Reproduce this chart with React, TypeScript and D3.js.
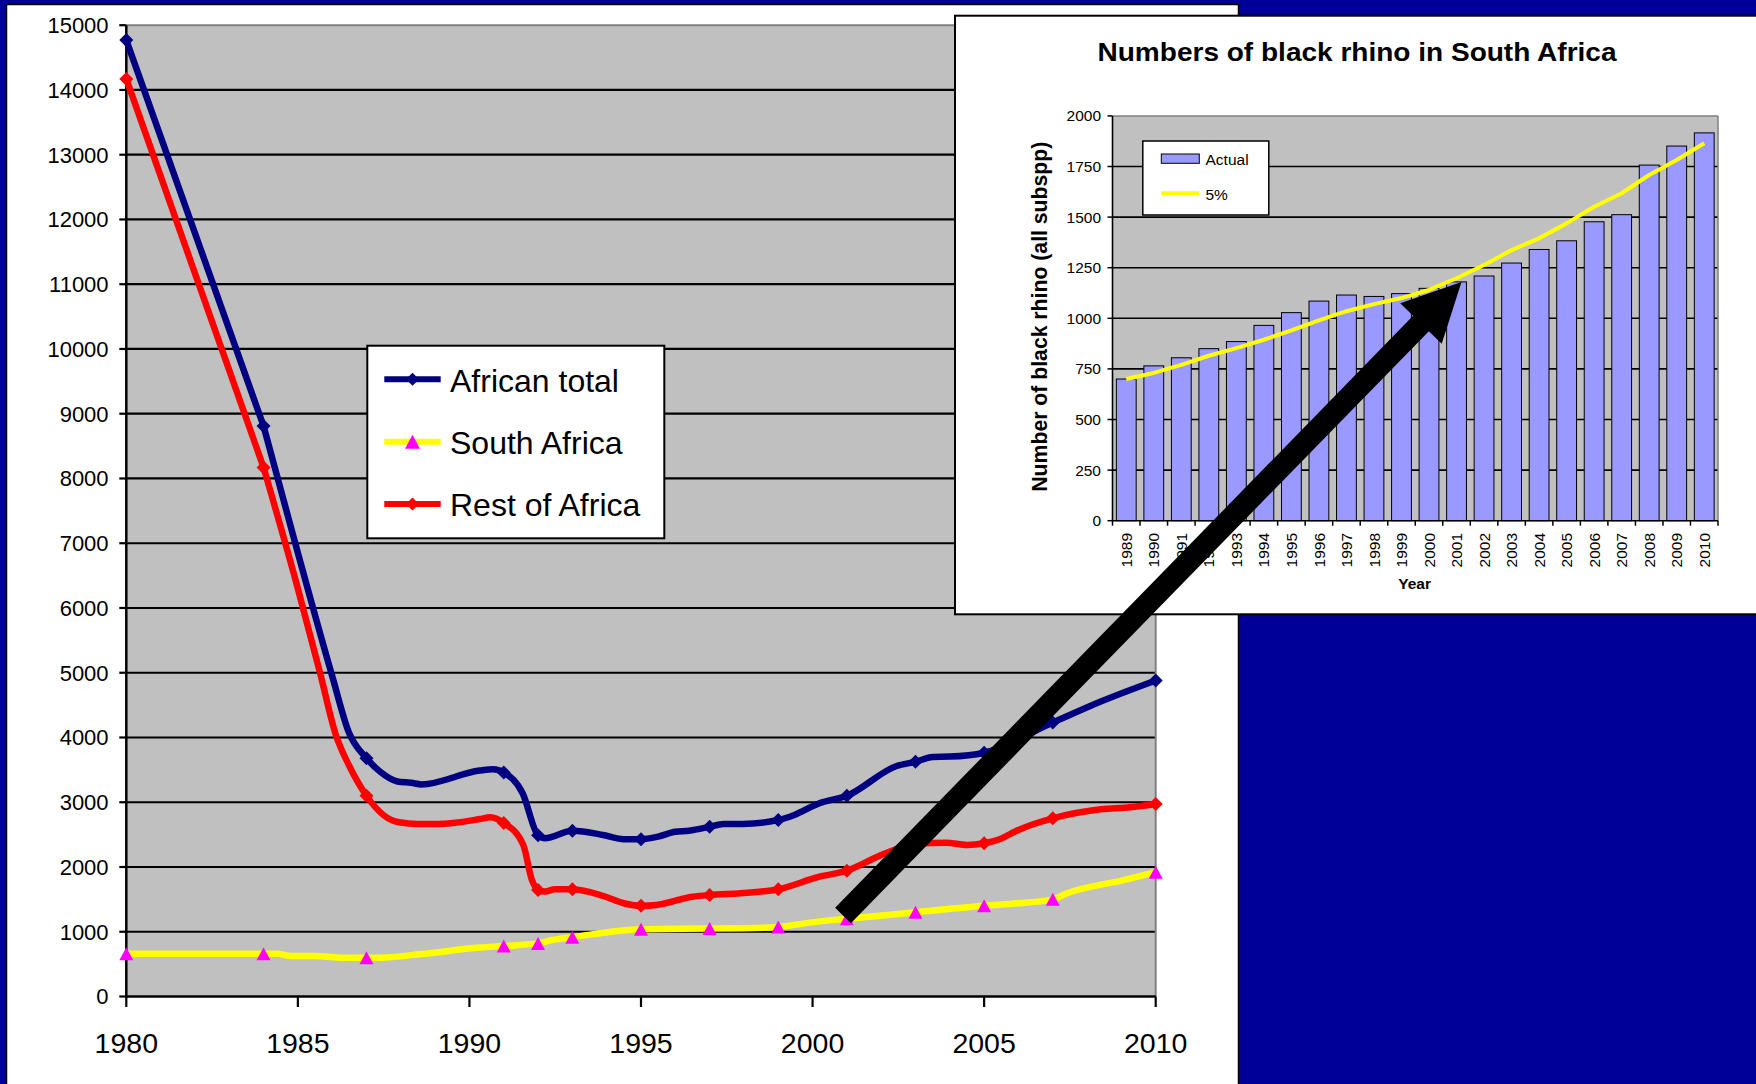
import React from "react";
import * as d3 from "d3";

// ---------- Main chart data ----------
const xTicks = [1980, 1985, 1990, 1995, 2000, 2005, 2010];
const yTicks = [0, 1000, 2000, 3000, 4000, 5000, 6000, 7000, 8000, 9000, 10000, 11000, 12000, 13000, 14000, 15000];
const markerYears = [1980, 1984, 1987, 1991, 1992, 1993, 1995, 1997, 1999, 2001, 2003, 2005, 2007, 2010];

const africanYears = [1980, 1984, 1985, 1986, 1986.5, 1987, 1987.4, 1987.9, 1988.3, 1988.6, 1990.3, 1990.7, 1991, 1991.55, 1992, 1992.2, 1993, 1993.9, 1994.5, 1995, 1995.5, 1996, 1996.4, 1997, 1997.4, 1997.95, 1999, 1999.45, 2000.2, 2001, 2002.45, 2003, 2003.5, 2004, 2005, 2007, 2008.4, 2010];
const africanValues = [14770, 8810, 6850, 4950, 4060, 3680, 3470, 3320, 3300, 3275, 3490, 3510, 3460, 3140, 2490, 2445, 2560, 2495, 2430, 2430, 2470, 2545, 2560, 2620, 2665, 2665, 2725, 2800, 2985, 3100, 3560, 3625, 3700, 3705, 3765, 4230, 4555, 4880];

const southYears = [1980, 1984, 1984.4, 1984.8, 1985.5, 1986.2, 1987, 1987.4, 1988.6, 1990.3, 1991, 1992, 1992.4, 1993, 1995, 1997, 1998, 1999, 2000.2, 2001, 2003, 2005, 2006, 2007, 2007.4, 2009.1, 2010];
const southValues = [660, 660, 660, 625, 625, 600, 600, 600, 655, 755, 780, 820, 870, 915, 1040, 1050, 1055, 1075, 1160, 1200, 1300, 1400, 1440, 1500, 1590, 1800, 1920];

const restYears = [1980, 1984, 1985, 1985.65, 1986.1, 1986.5, 1987, 1987.5, 1987.95, 1988.5, 1989.1, 1990.3, 1990.6, 1991, 1991.57, 1991.82, 1992, 1992.2, 1992.5, 1993, 1993.9, 1994.5, 1995, 1995.45, 1996.5, 1997, 1997.9, 1999, 2000.2, 2001, 2002, 2002.5, 2003, 2003.9, 2004.5, 2005, 2005.45, 2005.95, 2006.45, 2007, 2008.4, 2009.25, 2010];
const restValues = [14170, 8170, 6300, 4990, 4050, 3560, 3100, 2800, 2690, 2665, 2665, 2740, 2767, 2680, 2340, 1800, 1645, 1620, 1656, 1655, 1552, 1440, 1400, 1413, 1541, 1568, 1594, 1656, 1850, 1943, 2185, 2290, 2360, 2376, 2340, 2366, 2428, 2561, 2664, 2752, 2891, 2922, 2973];

const legendLabels = ["African total", "South Africa", "Rest of Africa"];

// ---------- Inset data ----------
const insetYears = ["1989", "1990", "1991", "1992", "1993", "1994", "1995", "1996", "1997", "1998", "1999", "2000", "2001", "2002", "2003", "2004", "2005", "2006", "2007", "2008", "2009", "2010"];
const actualValues = [700, 765, 805, 850, 885, 965, 1028, 1085, 1115, 1108, 1122, 1148, 1180, 1209, 1273, 1340, 1383, 1477, 1512, 1757, 1851, 1916];
const fivePctValues = [700, 730, 770, 815, 853, 894, 940, 990, 1035, 1070, 1100, 1140, 1198, 1263, 1337, 1395, 1469, 1551, 1618, 1708, 1782, 1865];
const insetYTicks = [0, 250, 500, 750, 1000, 1250, 1500, 1750, 2000];
const insetTitle = "Numbers of black rhino in South Africa";
const insetYTitle = "Number of black rhino (all subspp)";
const insetXTitle = "Year";
const insetLegend = ["Actual", "5%"];

const FONT = "'Liberation Sans', Arial, Helvetica, sans-serif";

const NAVY = "#000080";
const RED = "#FF0000";
const YELLOW = "#FFFF00";
const MAGENTA = "#FF00FF";

function diamondPath(s: number) {
  return `M0,${-s}L${s},0L0,${s}L${-s},0Z`;
}
function trianglePath(w: number, h: number) {
  return `M0,${-h / 2}L${w / 2},${h / 2}L${-w / 2},${h / 2}Z`;
}

export default function App() {
  const W = 1756, H = 1084;

  // main scales
  const x = d3.scaleLinear().domain([1980, 2010]).range([126.3, 1155.7]);
  const y = d3.scaleLinear().domain([0, 15000]).range([996.5, 25.2]);
  const [px0, px1] = x.range();
  const [py0, py1] = y.range();

  const smooth = d3
    .line<[number, number]>()
    .x((d) => x(d[0]))
    .y((d) => y(d[1]))
    .curve(d3.curveMonotoneX);
  const straight = d3
    .line<[number, number]>()
    .x((d) => x(d[0]))
    .y((d) => y(d[1]));
  // first segment (1980-1984) is a straight run, the rest is smoothed
  const seriesPath = (pts: [number, number][]) => (straight(pts.slice(0, 2)) || "") + (smooth(pts.slice(1)) || "");

  const africanPts = d3.zip(africanYears, africanValues) as [number, number][];
  const southPts = d3.zip(southYears, southValues) as [number, number][];
  const restPts = d3.zip(restYears, restValues) as [number, number][];

  const markersOf = (years: number[], values: number[]) =>
    markerYears.map((yr) => [yr, values[years.indexOf(yr)]] as [number, number]);

  // inset scales
  const xb = d3.scaleBand<string>().domain(insetYears).range([1112.5, 1718]).paddingInner(0.28).paddingOuter(0.14);
  const yi = d3.scaleLinear().domain([0, 2000]).range([520.7, 115.9]);
  const [ix0, ix1] = xb.range();
  const step = xb.step();
  const insetLine = d3
    .line<number>()
    .x((_, i) => (xb(insetYears[i]) as number) + xb.bandwidth() / 2)
    .y((d) => yi(d));

  // arrow annotation
  const tail = [843, 915.5];
  const tip = [1461.5, 282];
  const dx = tip[0] - tail[0], dy = tip[1] - tail[1];
  const len = Math.hypot(dx, dy);
  const ux = dx / len, uy = dy / len;
  const nx = -uy, ny = ux;
  const headL = 58, headW = 29, shaftW = 11;
  const bx = tip[0] - ux * headL, by = tip[1] - uy * headL;
  const arrowPts = [
    [tail[0] + nx * shaftW, tail[1] + ny * shaftW],
    [bx + nx * shaftW, by + ny * shaftW],
    [bx + nx * headW, by + ny * headW],
    [tip[0], tip[1]],
    [bx - nx * headW, by - ny * headW],
    [bx - nx * shaftW, by - ny * shaftW],
    [tail[0] - nx * shaftW, tail[1] - ny * shaftW],
  ];

  const legendRows = [
    { color: NAVY, marker: "diamond" },
    { color: YELLOW, marker: "triangle" },
    { color: RED, marker: "diamond" },
  ];

  return (
    <svg
      width={W}
      height={H}
      viewBox={`0 0 ${W} ${H}`}
      style={{ position: "absolute", left: 0, top: 0, display: "block" }}
      fontFamily={FONT}
    >
      {/* backgrounds */}
      <rect x={0} y={0} width={W} height={H} fill="#000099" />
      <rect x={6.5} y={4.5} width={1232} height={H + 10} fill="#FFFFFF" stroke="#000" strokeWidth={1.5} />

      {/* main plot area */}
      <rect x={px0} y={py1} width={px1 - px0} height={py0 - py1} fill="#C0C0C0" />
      {yTicks.filter((t) => t > 0 && t < 15000).map((t) => (
        <line key={"g" + t} x1={px0} x2={px1} y1={y(t)} y2={y(t)} stroke="#000" strokeWidth={2.2} />
      ))}
      <line x1={px0} x2={px1} y1={py1} y2={py1} stroke="#808080" strokeWidth={2} />
      <line x1={px1} x2={px1} y1={py1} y2={py0} stroke="#808080" strokeWidth={2} />

      {/* axes */}
      <line x1={px0} x2={px0} y1={py1} y2={py0} stroke="#000" strokeWidth={2.5} />
      <line x1={px0} x2={px1} y1={py0} y2={py0} stroke="#000" strokeWidth={2.5} />
      {yTicks.map((t) => (
        <g key={"yt" + t}>
          <line x1={px0 - 7} x2={px0} y1={y(t)} y2={y(t)} stroke="#000" strokeWidth={2.2} />
          <text x={108.6} y={y(t)} dy="0.36em" textAnchor="end" fontSize={22} fill="#000">
            {t}
          </text>
        </g>
      ))}
      {xTicks.map((t) => (
        <g key={"xt" + t}>
          <line x1={x(t)} x2={x(t)} y1={py0} y2={py0 + 10.5} stroke="#000" strokeWidth={2.2} />
          <text x={x(t)} y={1053} textAnchor="middle" fontSize={28.5} fill="#000">
            {t}
          </text>
        </g>
      ))}

      {/* series */}
      <path d={seriesPath(africanPts)} fill="none" stroke={NAVY} strokeWidth={6.5} strokeLinejoin="round" />
      {markersOf(africanYears, africanValues).map((d, i) => (
        <path key={"am" + i} d={diamondPath(7)} transform={`translate(${x(d[0])},${y(d[1])})`} fill={NAVY} />
      ))}
      <path d={seriesPath(southPts)} fill="none" stroke={YELLOW} strokeWidth={6.5} strokeLinejoin="round" />
      {markersOf(southYears, southValues).map((d, i) => (
        <path key={"sm" + i} d={trianglePath(14, 13)} transform={`translate(${x(d[0])},${y(d[1])})`} fill={MAGENTA} />
      ))}
      <path d={seriesPath(restPts)} fill="none" stroke={RED} strokeWidth={6.5} strokeLinejoin="round" />
      {markersOf(restYears, restValues).map((d, i) => (
        <path key={"rm" + i} d={diamondPath(7)} transform={`translate(${x(d[0])},${y(d[1])})`} fill={RED} />
      ))}

      {/* main legend */}
      <rect x={367.3} y={345.7} width={297} height={192.6} fill="#FFF" stroke="#000" strokeWidth={2} />
      {legendLabels.map((lab, i) => {
        const ly = 379.3 + i * 62.4;
        const row = legendRows[i];
        return (
          <g key={"lg" + i}>
            <line x1={384.3} x2={440.7} y1={ly} y2={ly} stroke={row.color} strokeWidth={6} />
            {row.marker === "diamond" ? (
              <path d={diamondPath(6.5)} transform={`translate(412.5,${ly})`} fill={row.color} />
            ) : (
              <path d={trianglePath(15, 14)} transform={`translate(412.5,${ly})`} fill={MAGENTA} />
            )}
            <text x={450} y={ly + 12.3} fontSize={32} fill="#000">
              {lab}
            </text>
          </g>
        );
      })}

      {/* ---------- inset ---------- */}
      <rect x={955} y={15.7} width={820} height={598.6} fill="#FFF" stroke="#000" strokeWidth={2} />
      <text x={1357} y={60.7} textAnchor="middle" fontSize={25} fontWeight="bold" textLength={519} lengthAdjust="spacingAndGlyphs" fill="#000">
        {insetTitle}
      </text>
      <rect x={ix0} y={yi(2000)} width={ix1 - ix0} height={yi(0) - yi(2000)} fill="#C0C0C0" />
      {insetYTicks.filter((t) => t > 0 && t < 2000).map((t) => (
        <line key={"ig" + t} x1={ix0} x2={ix1} y1={yi(t)} y2={yi(t)} stroke="#000" strokeWidth={1.6} />
      ))}
      <line x1={ix0} x2={ix1} y1={yi(2000)} y2={yi(2000)} stroke="#808080" strokeWidth={1.5} />
      <line x1={ix1} x2={ix1} y1={yi(2000)} y2={yi(0)} stroke="#808080" strokeWidth={1.5} />

      {insetYears.map((yr, i) => (
        <rect
          key={"b" + yr}
          x={xb(yr) as number}
          y={yi(actualValues[i])}
          width={xb.bandwidth()}
          height={yi(0) - yi(actualValues[i])}
          fill="#9999FF"
          stroke="#000"
          strokeWidth={1}
        />
      ))}
      <path d={insetLine(fivePctValues) || ""} fill="none" stroke={YELLOW} strokeWidth={4} strokeLinejoin="round" />

      {/* inset axes */}
      <line x1={ix0} x2={ix0} y1={yi(2000)} y2={yi(0)} stroke="#000" strokeWidth={1.6} />
      <line x1={ix0} x2={ix1} y1={yi(0)} y2={yi(0)} stroke="#000" strokeWidth={1.6} />
      {insetYTicks.map((t) => (
        <g key={"iyt" + t}>
          <line x1={ix0 - 5} x2={ix0} y1={yi(t)} y2={yi(t)} stroke="#000" strokeWidth={1.5} />
          <text x={1101} y={yi(t)} dy="0.36em" textAnchor="end" fontSize={15.5} fill="#000">
            {t}
          </text>
        </g>
      ))}
      {d3.range(insetYears.length + 1).map((i) => (
        <line key={"ixt" + i} x1={ix0 + i * step} x2={ix0 + i * step} y1={yi(0)} y2={yi(0) + 5} stroke="#000" strokeWidth={1.5} />
      ))}
      {insetYears.map((yr) => {
        const cx = (xb(yr) as number) + xb.bandwidth() / 2;
        return (
          <text key={"ixl" + yr} transform={`translate(${cx},533) rotate(-90)`} dy="0.36em" textAnchor="end" fontSize={15.5} fill="#000">
            {yr}
          </text>
        );
      })}
      <text x={1414.6} y={589} textAnchor="middle" fontSize={15.5} fontWeight="bold" fill="#000">
        {insetXTitle}
      </text>
      <text
        transform={`translate(1046.5,316.7) rotate(-90)`}
        textAnchor="middle"
        fontSize={22}
        fontWeight="bold"
        textLength={350}
        lengthAdjust="spacingAndGlyphs"
        fill="#000"
      >
        {insetYTitle}
      </text>

      {/* inset legend */}
      <rect x={1142.8} y={141} width={126} height={74} fill="#FFF" stroke="#000" strokeWidth={1.5} />
      <rect x={1161.3} y={154} width={38} height={9.3} fill="#9999FF" stroke="#000" strokeWidth={1} />
      <text x={1205.5} y={165} fontSize={15.5} fill="#000">
        {insetLegend[0]}
      </text>
      <line x1={1161.3} x2={1199.4} y1={193.3} y2={193.3} stroke={YELLOW} strokeWidth={4} />
      <text x={1205.5} y={200} fontSize={15.5} fill="#000">
        {insetLegend[1]}
      </text>

      {/* arrow annotation */}
      <polygon points={arrowPts.map((p) => p.join(",")).join(" ")} fill="#000" />
    </svg>
  );
}
